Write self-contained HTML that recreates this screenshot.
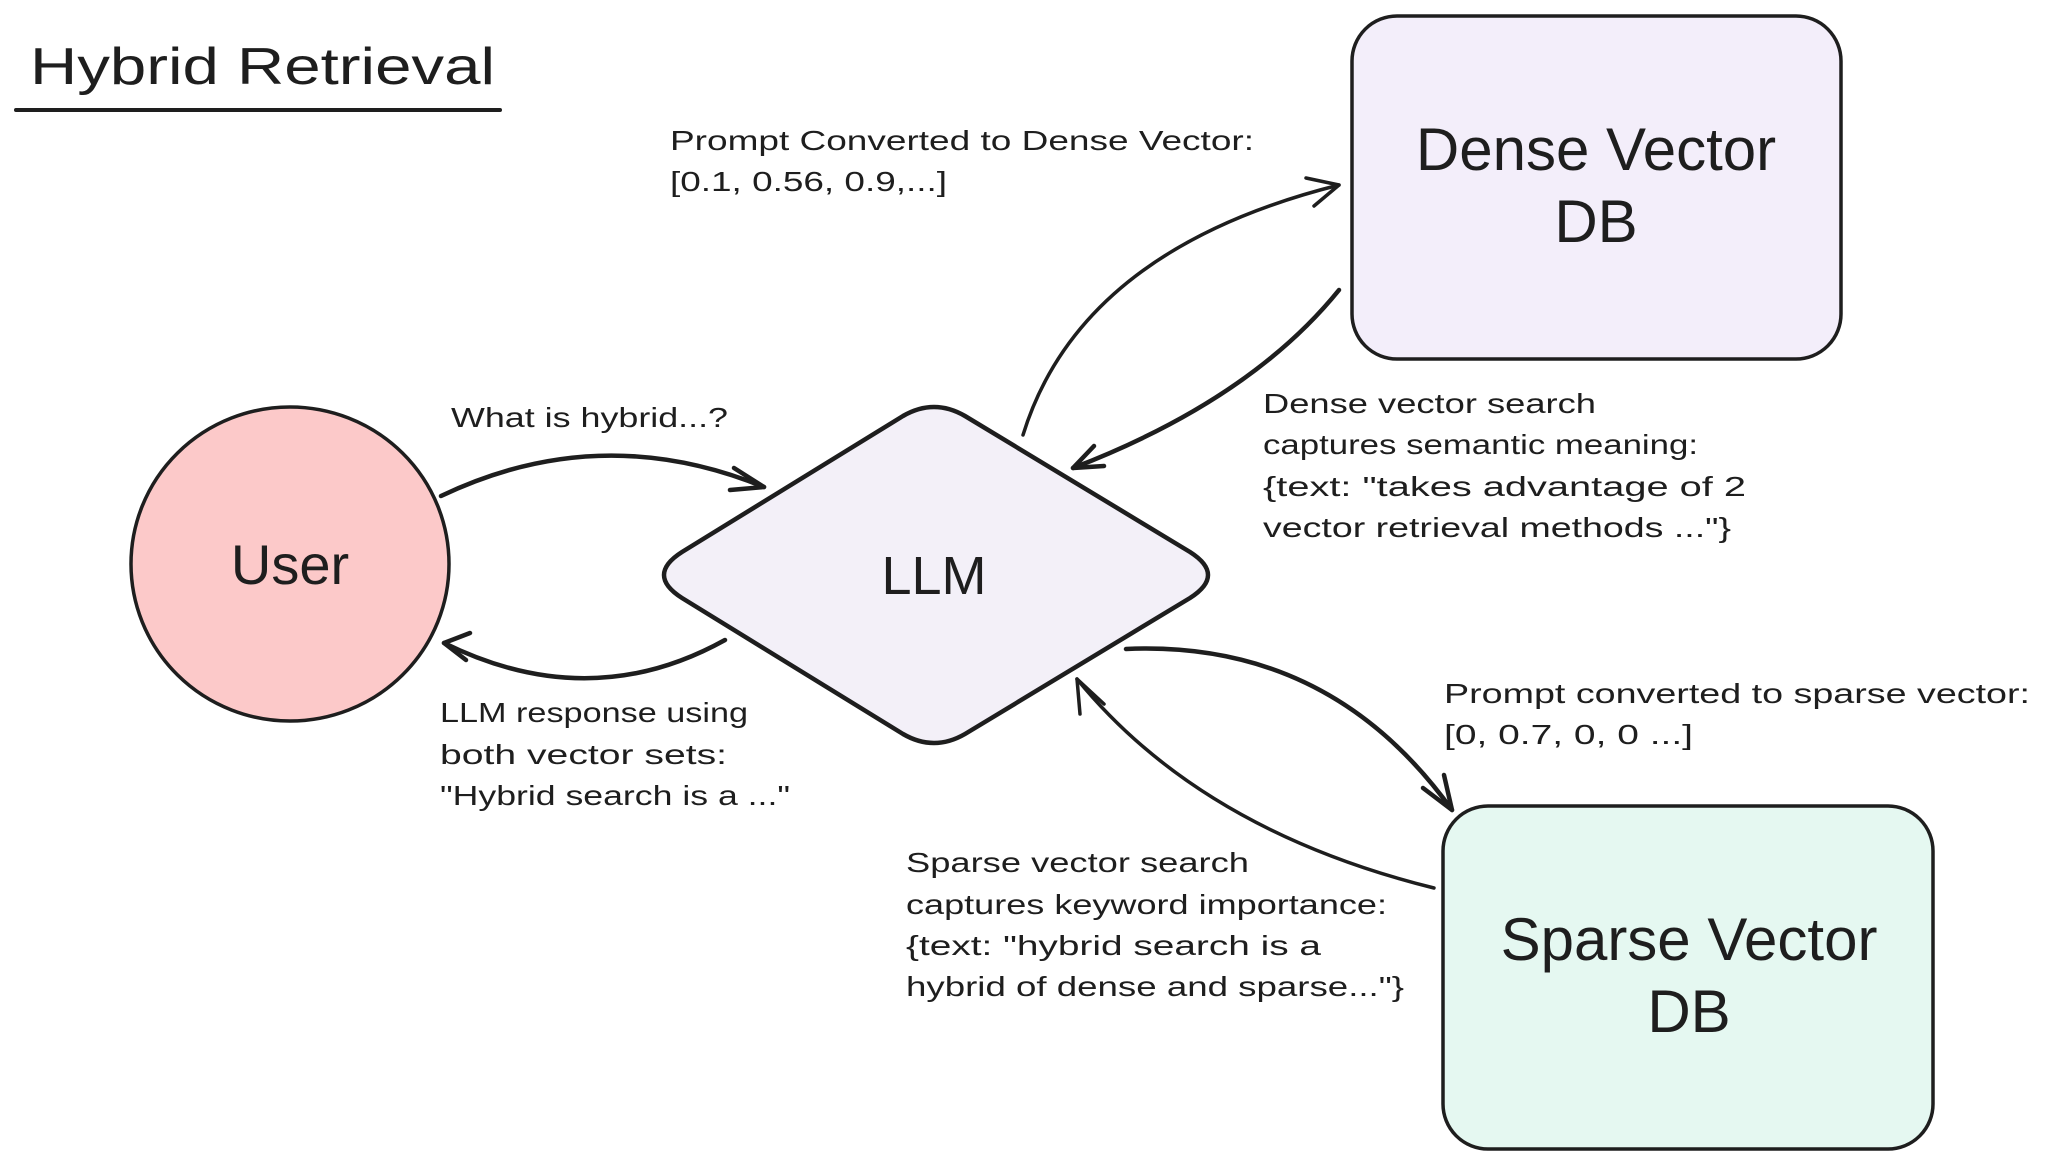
<!DOCTYPE html>
<html><head><meta charset="utf-8"><style>
html,body{margin:0;padding:0;background:#fff;width:2048px;height:1166px;overflow:hidden}
svg{display:block}
text{font-family:"Liberation Sans",sans-serif;fill:#1e1e1e}
</style></head><body>
<svg width="2048" height="1166" viewBox="0 0 2048 1166" xmlns="http://www.w3.org/2000/svg">
<g stroke="#1e1e1e" fill="none" stroke-linecap="round" stroke-linejoin="round">
<path d="M16 110 L500 110" stroke-width="4"/>
<rect x="1352" y="16" width="489" height="343" rx="45" fill="#f3eefa" stroke-width="3.5"/>
<rect x="1443" y="806" width="490" height="343" rx="45" fill="#e5f8f1" stroke-width="3.5"/>
<ellipse cx="290" cy="564" rx="159" ry="157" fill="#fcc9c9" stroke-width="3.5"/>
<path d="M682 552 L903 416 Q934 398 965 416 L1190 552 Q1226 575 1190 598 L965 734 Q934 752 903 734 L682 598 Q646 575 682 552 Z" fill="#f3f0f8" stroke-width="4.5"/>
<g stroke-width="4.5">
<path d="M441 496 Q600 420 764 487"/><path d="M734 468 L764 487 L730 490"/>
<path d="M725 640 Q590 715 444 643"/><path d="M470 633 L444 643 L466 660"/>
<path d="M1339 290 Q1250 400 1073 468"/><path d="M1094 446 L1073 468 L1104 466"/>
<path d="M1126 649 Q1330 640 1452 810"/><path d="M1423 788 L1452 810 L1444 775"/>
</g>
<g stroke-width="3.5">
<path d="M1023 435 Q1080 250 1339 185"/><path d="M1306 178 L1339 185 L1314 206"/>
<path d="M1434 888 Q1200 830 1077 679"/><path d="M1080 714 L1077 679 L1104 704"/>
</g>
</g>
<text x="30" y="84" font-size="52" textLength="465" lengthAdjust="spacingAndGlyphs">Hybrid Retrieval</text>
<g font-size="60" text-anchor="middle">
<text x="1596" y="170">Dense Vector</text>
<text x="1596" y="242">DB</text>
<text x="1689" y="960">Sparse Vector</text>
<text x="1689" y="1032">DB</text>
<text x="290" y="584" font-size="56">User</text>
<text x="934" y="594" font-size="54">LLM</text>
</g>
<g font-size="28">
<text x="670" y="150" textLength="584" lengthAdjust="spacingAndGlyphs">Prompt Converted to Dense Vector:</text>
<text x="670" y="191" textLength="277" lengthAdjust="spacingAndGlyphs">[0.1, 0.56, 0.9,...]</text>
<text x="451" y="427" textLength="277" lengthAdjust="spacingAndGlyphs">What is hybrid...?</text>
<text x="1263" y="413" textLength="333" lengthAdjust="spacingAndGlyphs">Dense vector search</text>
<text x="1263" y="454" textLength="435" lengthAdjust="spacingAndGlyphs">captures semantic meaning:</text>
<text x="1263" y="496" textLength="483" lengthAdjust="spacingAndGlyphs">{text: "takes advantage of 2</text>
<text x="1263" y="537" textLength="468" lengthAdjust="spacingAndGlyphs">vector retrieval methods ..."}</text>
<text x="440" y="722" textLength="308" lengthAdjust="spacingAndGlyphs">LLM response using</text>
<text x="440" y="764" textLength="287" lengthAdjust="spacingAndGlyphs">both vector sets:</text>
<text x="440" y="805" textLength="350" lengthAdjust="spacingAndGlyphs">"Hybrid search is a ..."</text>
<text x="1444" y="703" textLength="586" lengthAdjust="spacingAndGlyphs">Prompt converted to sparse vector:</text>
<text x="1444" y="744" textLength="249" lengthAdjust="spacingAndGlyphs">[0, 0.7, 0, 0 ...]</text>
<text x="906" y="872" textLength="343" lengthAdjust="spacingAndGlyphs">Sparse vector search</text>
<text x="906" y="914" textLength="481" lengthAdjust="spacingAndGlyphs">captures keyword importance:</text>
<text x="906" y="955" textLength="415" lengthAdjust="spacingAndGlyphs">{text: "hybrid search is a</text>
<text x="906" y="996" textLength="498" lengthAdjust="spacingAndGlyphs">hybrid of dense and sparse..."}</text>
</g>
</svg>
</body></html>
